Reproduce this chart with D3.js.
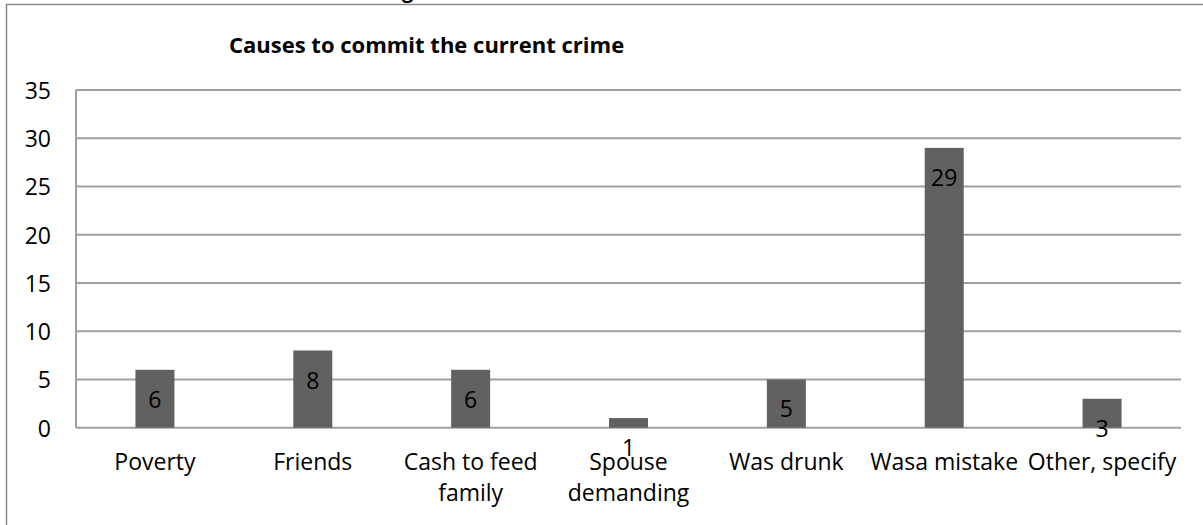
<html>
  <head>
    <script src="https://d3js.org/d3.v7.min.js"></script>
    <style>
      body { margin: 0; background: #fff; }
      text { font-family: "Open Sans", "Liberation Sans", sans-serif; fill: #000; }
      line.grid { stroke: #a0a0a0; stroke-width: 2px; }
    </style>
  </head>
  <body>
    <svg id="chart" width="1203" height="525"></svg>
    <script>
      // values
      const causes = ["Poverty", "Friends", "Cash to feed family", "Spouse demanding",
                      "Was drunk", "Wasa mistake", "Other, specify"];
      const causeLines = [["Poverty"], ["Friends"], ["Cash to feed", "family"],
                          ["Spouse", "demanding"], ["Was drunk"], ["Wasa mistake"], ["Other, specify"]];
      const counts = [6, 8, 6, 1, 5, 29, 3];
      const yTicks = [0, 5, 10, 15, 20, 25, 30, 35];

      const svg = d3.select("#chart");

      // outer frame (runs off the right and bottom of the shot)
      svg.append("rect")
        .attr("x", 6.5).attr("y", 4.5)
        .attr("width", 1300).attr("height", 600)
        .attr("fill", "none").attr("stroke", "#8a8a8a").attr("stroke-width", 1.5);

      // clipped heading above the frame, only the descender shows
      svg.append("text")
        .attr("x", 402).attr("y", -2)
        .attr("font-weight", "bold").attr("font-size", 20)
        .text("g");

      svg.append("text")
        .attr("x", 229).attr("y", 53)
        .attr("font-weight", "bold").attr("font-size", 22)
        .text("Causes to commit the current crime");

      const x = d3.scaleBand().domain(causes).range([76, 1181])
        .paddingInner(0.753).paddingOuter(0.3765);
      const y = d3.scaleLinear().domain([0, 35]).range([427.7, 90]);

      // gridlines
      svg.append("g").selectAll("line")
        .data(yTicks)
        .join("line")
        .attr("class", "grid")
        .attr("x1", 76).attr("x2", 1181)
        .attr("y1", (d) => y(d)).attr("y2", (d) => y(d));
      svg.append("line").attr("class", "grid")
        .attr("x1", 76).attr("x2", 76)
        .attr("y1", y(35)).attr("y2", y(0));

      svg.append("g").selectAll("text")
        .data(yTicks)
        .join("text")
        .attr("x", 51).attr("y", (d) => y(d))
        .attr("text-anchor", "end")
        .attr("dominant-baseline", "central")
        .attr("font-size", 23)
        .text((d) => d);

      // bars
      svg.append("g").selectAll("rect")
        .data(counts)
        .join("rect")
        .attr("x", (d, i) => x(causes[i]))
        .attr("width", x.bandwidth())
        .attr("y", (d) => y(d))
        .attr("height", (d) => y(0) - y(d))
        .attr("fill", "#616161");

      // value labels sit a fixed distance under the bar top
      svg.append("g").selectAll("text")
        .data(counts)
        .join("text")
        .attr("x", (d, i) => x(causes[i]) + x.bandwidth() / 2)
        .attr("y", (d) => y(d) + 29)
        .attr("text-anchor", "middle")
        .attr("dominant-baseline", "central")
        .attr("font-size", 23)
        .text((d) => d);

      // category labels
      const cat = svg.append("g").selectAll("text")
        .data(causeLines)
        .join("text")
        .attr("text-anchor", "middle")
        .attr("font-size", 23);
      cat.selectAll("tspan")
        .data((d, i) => d.map((s) => ({ s, c: causes[i] })))
        .join("tspan")
        .attr("x", (d) => x(d.c) + x.bandwidth() / 2)
        .attr("y", (d, j) => 470 + j * 31)
        .text((d) => d.s);
    </script>
  </body>
</html>
